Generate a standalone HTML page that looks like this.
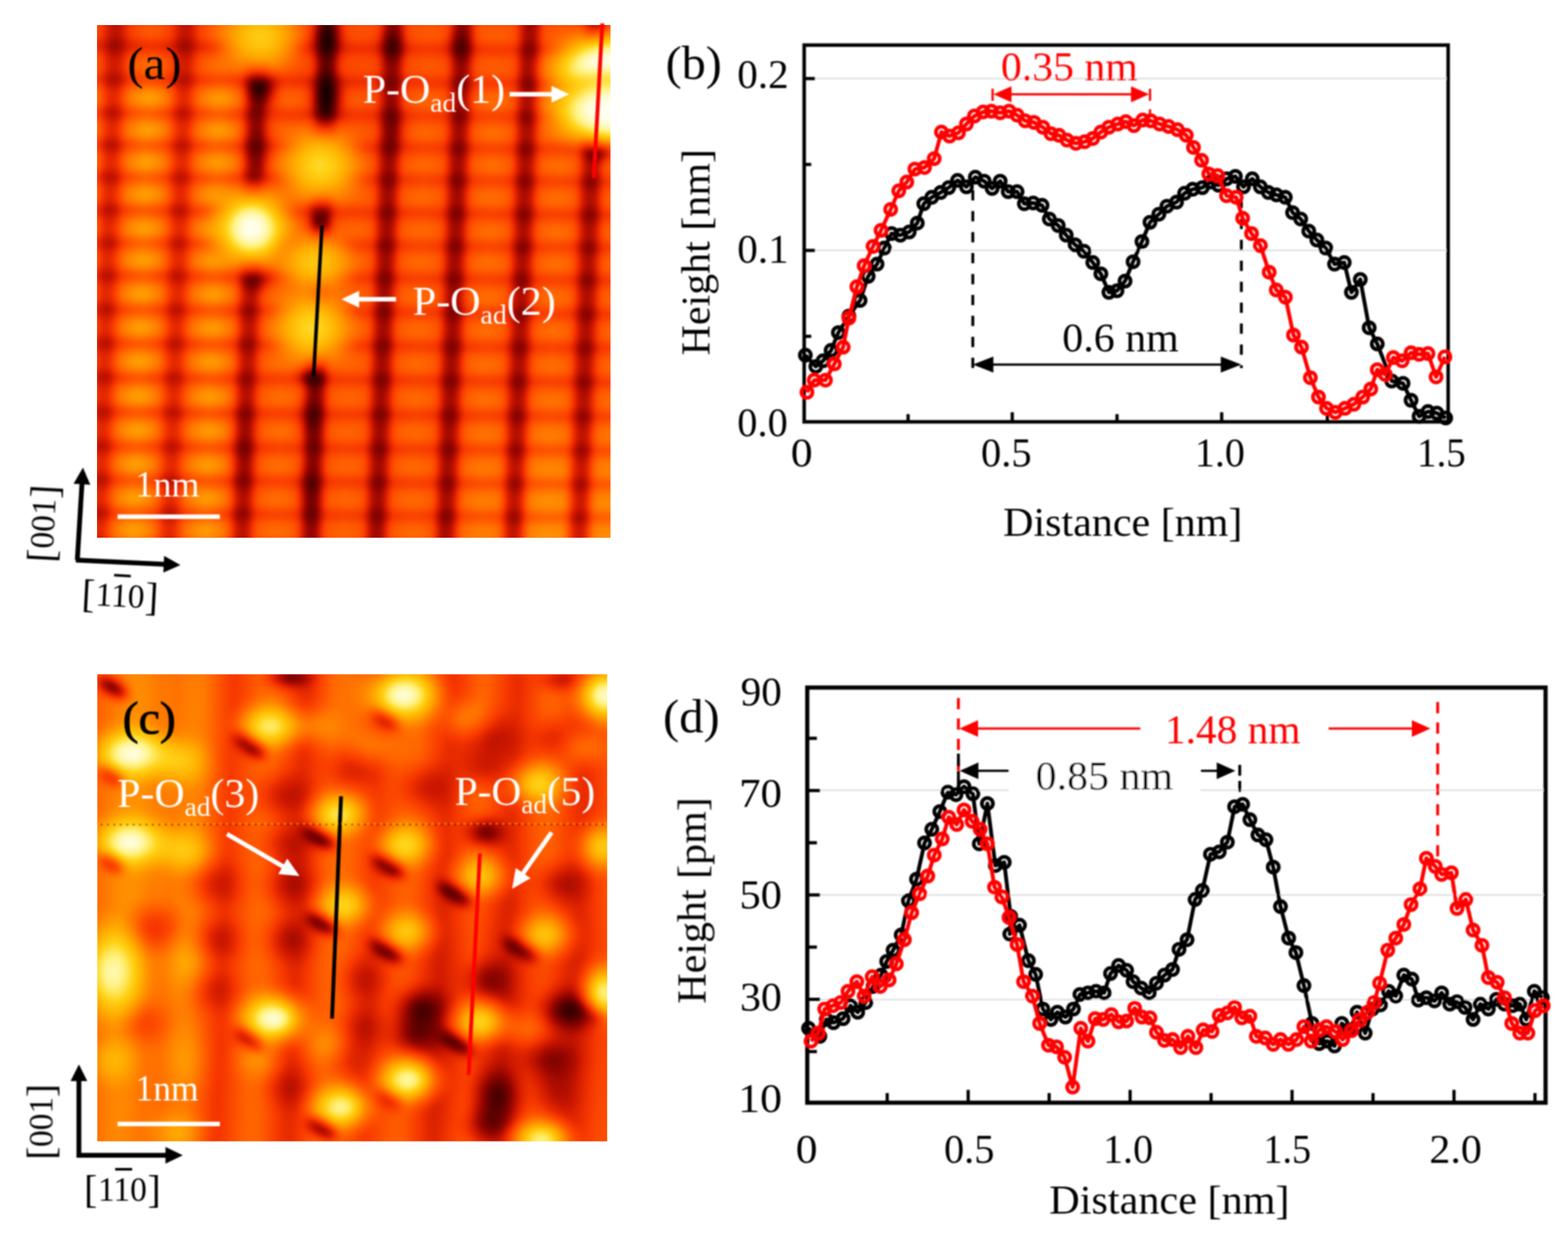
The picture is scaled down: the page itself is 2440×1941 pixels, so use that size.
<!DOCTYPE html>
<html lang="en"><head><meta charset="utf-8"><title>Figure</title>
<style>html,body{margin:0;padding:0;background:#fff;width:2440px;height:1941px;overflow:hidden}svg{display:block}text{font-family:"Liberation Serif","DejaVu Serif",serif;white-space:pre}</style></head><body>
<svg width="2440" height="1941" viewBox="0 0 2440 1941" role="img" aria-label="STM images and height profiles">
<defs>
<radialGradient id="gW"><stop offset="0" stop-color="#fff" stop-opacity="1"/><stop offset="0.15" stop-color="#fff" stop-opacity="0.94"/><stop offset="0.3" stop-color="#fff" stop-opacity="0.78"/><stop offset="0.45" stop-color="#fff" stop-opacity="0.57"/><stop offset="0.6" stop-color="#fff" stop-opacity="0.36"/><stop offset="0.75" stop-color="#fff" stop-opacity="0.18"/><stop offset="0.9" stop-color="#fff" stop-opacity="0.05"/><stop offset="1" stop-color="#fff" stop-opacity="0"/></radialGradient><radialGradient id="gB"><stop offset="0" stop-color="#000" stop-opacity="1"/><stop offset="0.15" stop-color="#000" stop-opacity="0.94"/><stop offset="0.3" stop-color="#000" stop-opacity="0.78"/><stop offset="0.45" stop-color="#000" stop-opacity="0.57"/><stop offset="0.6" stop-color="#000" stop-opacity="0.36"/><stop offset="0.75" stop-color="#000" stop-opacity="0.18"/><stop offset="0.9" stop-color="#000" stop-opacity="0.05"/><stop offset="1" stop-color="#000" stop-opacity="0"/></radialGradient><radialGradient id="gWF"><stop offset="0" stop-color="#fff" stop-opacity="1"/><stop offset="0.35" stop-color="#fff" stop-opacity="0.98"/><stop offset="0.5" stop-color="#fff" stop-opacity="0.9"/><stop offset="0.62" stop-color="#fff" stop-opacity="0.74"/><stop offset="0.74" stop-color="#fff" stop-opacity="0.5"/><stop offset="0.85" stop-color="#fff" stop-opacity="0.25"/><stop offset="0.94" stop-color="#fff" stop-opacity="0.07"/><stop offset="1" stop-color="#fff" stop-opacity="0"/></radialGradient><radialGradient id="gBF"><stop offset="0" stop-color="#000" stop-opacity="1"/><stop offset="0.35" stop-color="#000" stop-opacity="0.98"/><stop offset="0.5" stop-color="#000" stop-opacity="0.9"/><stop offset="0.62" stop-color="#000" stop-opacity="0.74"/><stop offset="0.74" stop-color="#000" stop-opacity="0.5"/><stop offset="0.85" stop-color="#000" stop-opacity="0.25"/><stop offset="0.94" stop-color="#000" stop-opacity="0.07"/><stop offset="1" stop-color="#000" stop-opacity="0"/></radialGradient><radialGradient id="gM"><stop offset="0" stop-color="#a0a0a0" stop-opacity="1"/><stop offset="0.35" stop-color="#a0a0a0" stop-opacity="0.98"/><stop offset="0.5" stop-color="#a0a0a0" stop-opacity="0.9"/><stop offset="0.62" stop-color="#a0a0a0" stop-opacity="0.74"/><stop offset="0.74" stop-color="#a0a0a0" stop-opacity="0.5"/><stop offset="0.85" stop-color="#a0a0a0" stop-opacity="0.25"/><stop offset="0.94" stop-color="#a0a0a0" stop-opacity="0.07"/><stop offset="1" stop-color="#a0a0a0" stop-opacity="0"/></radialGradient><filter id="fa" filterUnits="userSpaceOnUse" x="91.4" y="-20.6" width="917.9" height="916.8" color-interpolation-filters="sRGB"><feGaussianBlur in="SourceGraphic" stdDeviation="7" result="b"/><feComponentTransfer in="b"><feFuncR type="table" tableValues="0 0.3 0.58 0.82 0.97 1 1 1 1 1 1"/><feFuncG type="table" tableValues="0 0 0.02 0.1 0.22 0.36 0.52 0.68 0.82 0.95 1"/><feFuncB type="table" tableValues="0 0 0 0 0 0 0 0 0.08 0.5 0.95"/><feFuncA type="linear" slope="0" intercept="1"/></feComponentTransfer></filter><filter id="fc" filterUnits="userSpaceOnUse" x="91.4" y="989.6" width="913.4" height="846.9" color-interpolation-filters="sRGB"><feGaussianBlur in="SourceGraphic" stdDeviation="8" result="b"/><feComponentTransfer in="b"><feFuncR type="table" tableValues="0 0.3 0.58 0.82 0.97 1 1 1 1 1 1"/><feFuncG type="table" tableValues="0 0 0.02 0.1 0.22 0.36 0.52 0.68 0.82 0.95 1"/><feFuncB type="table" tableValues="0 0 0 0 0 0 0 0 0.08 0.5 0.95"/><feFuncA type="linear" slope="0" intercept="1"/></feComponentTransfer></filter><clipPath id="ca"><rect x="151.4" y="39.4" width="797.9" height="796.8"/></clipPath><clipPath id="cc"><rect x="151.4" y="1049.6" width="793.4" height="726.9"/></clipPath><filter id="soft" x="-5%" y="-5%" width="110%" height="110%"><feGaussianBlur stdDeviation="1.3"/></filter></defs>
<rect width="2440" height="1941" fill="#fff"/>
<g clip-path="url(#ca)"><g filter="url(#fa)"><rect x="80" y="-30" width="940" height="940" fill="#707070"/><ellipse cx="900" cy="820" rx="280" ry="260" fill="url(#gW)" opacity="0.22"/><ellipse cx="520" cy="140" rx="220" ry="220" fill="url(#gB)" opacity="0.10"/><ellipse cx="230" cy="40" rx="220" ry="110" fill="url(#gB)" opacity="0.25"/><line x1="182.3" y1="-30" x2="151.6" y2="900" stroke="#000" stroke-width="30" stroke-opacity="0.32"/><line x1="291.3" y1="-30" x2="260.6" y2="900" stroke="#000" stroke-width="30" stroke-opacity="0.30"/><line x1="404.3" y1="-30" x2="373.6" y2="900" stroke="#000" stroke-width="30" stroke-opacity="0.48"/><line x1="512.3" y1="-30" x2="481.6" y2="900" stroke="#000" stroke-width="30" stroke-opacity="0.62"/><line x1="614.3" y1="-30" x2="583.6" y2="900" stroke="#000" stroke-width="30" stroke-opacity="0.56"/><line x1="722.3" y1="-30" x2="691.6" y2="900" stroke="#000" stroke-width="30" stroke-opacity="0.56"/><line x1="827.3" y1="-30" x2="796.6" y2="900" stroke="#000" stroke-width="30" stroke-opacity="0.54"/><line x1="929.3" y1="-30" x2="898.6" y2="900" stroke="#000" stroke-width="30" stroke-opacity="0.52"/><line x1="80" y1="18.2" x2="1020" y2="27.6" stroke="#000" stroke-width="14" stroke-opacity="0.20"/><line x1="80" y1="70.2" x2="1020" y2="79.6" stroke="#000" stroke-width="14" stroke-opacity="0.20"/><line x1="80" y1="122.7" x2="1020" y2="132.1" stroke="#000" stroke-width="14" stroke-opacity="0.20"/><line x1="80" y1="174.2" x2="1020" y2="183.6" stroke="#000" stroke-width="14" stroke-opacity="0.20"/><line x1="80" y1="224.2" x2="1020" y2="233.6" stroke="#000" stroke-width="14" stroke-opacity="0.20"/><line x1="80" y1="274.2" x2="1020" y2="283.6" stroke="#000" stroke-width="14" stroke-opacity="0.20"/><line x1="80" y1="325.7" x2="1020" y2="335.1" stroke="#000" stroke-width="14" stroke-opacity="0.20"/><line x1="80" y1="376.7" x2="1020" y2="386.1" stroke="#000" stroke-width="14" stroke-opacity="0.20"/><line x1="80" y1="427.6" x2="1020" y2="436.9" stroke="#000" stroke-width="14" stroke-opacity="0.20"/><line x1="80" y1="480.2" x2="1020" y2="489.6" stroke="#000" stroke-width="14" stroke-opacity="0.20"/><line x1="80" y1="532.9" x2="1020" y2="542.2" stroke="#000" stroke-width="14" stroke-opacity="0.20"/><line x1="80" y1="586.2" x2="1020" y2="595.6" stroke="#000" stroke-width="14" stroke-opacity="0.20"/><line x1="80" y1="640" x2="1020" y2="649.4" stroke="#000" stroke-width="14" stroke-opacity="0.20"/><line x1="80" y1="693.1" x2="1020" y2="702.5" stroke="#000" stroke-width="14" stroke-opacity="0.20"/><line x1="80" y1="745.6" x2="1020" y2="755" stroke="#000" stroke-width="14" stroke-opacity="0.20"/><line x1="80" y1="797" x2="1020" y2="806.4" stroke="#000" stroke-width="14" stroke-opacity="0.20"/><line x1="80" y1="848.2" x2="1020" y2="857.6" stroke="#000" stroke-width="14" stroke-opacity="0.20"/><ellipse cx="128.4" cy="-5" rx="64" ry="36" fill="url(#gW)" opacity="0.20"/><ellipse cx="126.7" cy="47" rx="64" ry="36" fill="url(#gW)" opacity="0.20"/><ellipse cx="125" cy="99" rx="64" ry="36" fill="url(#gW)" opacity="0.20"/><ellipse cx="123.3" cy="151.9" rx="64" ry="36" fill="url(#gW)" opacity="0.34"/><ellipse cx="121.6" cy="201.9" rx="64" ry="36" fill="url(#gW)" opacity="0.34"/><ellipse cx="120" cy="251.9" rx="64" ry="36" fill="url(#gW)" opacity="0.34"/><ellipse cx="118.3" cy="301.9" rx="64" ry="36" fill="url(#gW)" opacity="0.34"/><ellipse cx="116.6" cy="354.9" rx="64" ry="36" fill="url(#gW)" opacity="0.34"/><ellipse cx="114.9" cy="403.8" rx="64" ry="36" fill="url(#gW)" opacity="0.34"/><ellipse cx="113.2" cy="456.5" rx="64" ry="36" fill="url(#gW)" opacity="0.34"/><ellipse cx="111.5" cy="509.1" rx="64" ry="36" fill="url(#gW)" opacity="0.34"/><ellipse cx="109.7" cy="561.8" rx="64" ry="36" fill="url(#gW)" opacity="0.34"/><ellipse cx="107.9" cy="615.8" rx="64" ry="36" fill="url(#gW)" opacity="0.34"/><ellipse cx="106.2" cy="669.3" rx="64" ry="36" fill="url(#gW)" opacity="0.34"/><ellipse cx="104.4" cy="721.9" rx="64" ry="36" fill="url(#gW)" opacity="0.34"/><ellipse cx="102.7" cy="774.2" rx="64" ry="36" fill="url(#gW)" opacity="0.34"/><ellipse cx="101" cy="824.7" rx="64" ry="36" fill="url(#gW)" opacity="0.34"/><ellipse cx="99.3" cy="876.7" rx="64" ry="36" fill="url(#gW)" opacity="0.34"/><ellipse cx="235.9" cy="-3.9" rx="64" ry="36" fill="url(#gW)" opacity="0.26"/><ellipse cx="234.2" cy="48" rx="64" ry="36" fill="url(#gW)" opacity="0.26"/><ellipse cx="232.5" cy="100" rx="64" ry="36" fill="url(#gW)" opacity="0.26"/><ellipse cx="230.8" cy="153" rx="64" ry="36" fill="url(#gW)" opacity="0.44"/><ellipse cx="229.1" cy="203" rx="64" ry="36" fill="url(#gW)" opacity="0.44"/><ellipse cx="227.5" cy="253" rx="64" ry="36" fill="url(#gW)" opacity="0.44"/><ellipse cx="225.8" cy="303" rx="64" ry="36" fill="url(#gW)" opacity="0.44"/><ellipse cx="224.1" cy="355.9" rx="64" ry="36" fill="url(#gW)" opacity="0.44"/><ellipse cx="222.4" cy="404.9" rx="64" ry="36" fill="url(#gW)" opacity="0.44"/><ellipse cx="220.7" cy="457.6" rx="64" ry="36" fill="url(#gW)" opacity="0.44"/><ellipse cx="219" cy="510.2" rx="64" ry="36" fill="url(#gW)" opacity="0.44"/><ellipse cx="217.2" cy="562.9" rx="64" ry="36" fill="url(#gW)" opacity="0.44"/><ellipse cx="215.4" cy="616.9" rx="64" ry="36" fill="url(#gW)" opacity="0.44"/><ellipse cx="213.7" cy="670.3" rx="64" ry="36" fill="url(#gW)" opacity="0.44"/><ellipse cx="211.9" cy="723" rx="64" ry="36" fill="url(#gW)" opacity="0.44"/><ellipse cx="210.2" cy="775.3" rx="64" ry="36" fill="url(#gW)" opacity="0.44"/><ellipse cx="208.5" cy="825.8" rx="64" ry="36" fill="url(#gW)" opacity="0.44"/><ellipse cx="206.8" cy="877.8" rx="64" ry="36" fill="url(#gW)" opacity="0.44"/><ellipse cx="346.9" cy="-2.8" rx="64" ry="36" fill="url(#gW)" opacity="0.25"/><ellipse cx="345.2" cy="49.2" rx="64" ry="36" fill="url(#gW)" opacity="0.25"/><ellipse cx="343.5" cy="101.1" rx="64" ry="36" fill="url(#gW)" opacity="0.25"/><ellipse cx="341.8" cy="154.1" rx="64" ry="36" fill="url(#gW)" opacity="0.42"/><ellipse cx="340.1" cy="204.1" rx="64" ry="36" fill="url(#gW)" opacity="0.42"/><ellipse cx="338.5" cy="254.1" rx="64" ry="36" fill="url(#gW)" opacity="0.42"/><ellipse cx="336.8" cy="304.1" rx="64" ry="36" fill="url(#gW)" opacity="0.42"/><ellipse cx="335.1" cy="357.1" rx="64" ry="36" fill="url(#gW)" opacity="0.42"/><ellipse cx="333.4" cy="406" rx="64" ry="36" fill="url(#gW)" opacity="0.42"/><ellipse cx="331.7" cy="458.7" rx="64" ry="36" fill="url(#gW)" opacity="0.42"/><ellipse cx="330" cy="511.3" rx="64" ry="36" fill="url(#gW)" opacity="0.42"/><ellipse cx="328.2" cy="564" rx="64" ry="36" fill="url(#gW)" opacity="0.42"/><ellipse cx="326.4" cy="618" rx="64" ry="36" fill="url(#gW)" opacity="0.42"/><ellipse cx="324.7" cy="671.4" rx="64" ry="36" fill="url(#gW)" opacity="0.42"/><ellipse cx="322.9" cy="724.1" rx="64" ry="36" fill="url(#gW)" opacity="0.42"/><ellipse cx="321.2" cy="776.4" rx="64" ry="36" fill="url(#gW)" opacity="0.42"/><ellipse cx="319.5" cy="826.9" rx="64" ry="36" fill="url(#gW)" opacity="0.42"/><ellipse cx="317.8" cy="878.9" rx="64" ry="36" fill="url(#gW)" opacity="0.42"/><ellipse cx="457.4" cy="-1.7" rx="64" ry="36" fill="url(#gW)" opacity="0.12"/><ellipse cx="455.7" cy="50.3" rx="64" ry="36" fill="url(#gW)" opacity="0.12"/><ellipse cx="454" cy="102.2" rx="64" ry="36" fill="url(#gW)" opacity="0.12"/><ellipse cx="452.3" cy="155.2" rx="64" ry="36" fill="url(#gW)" opacity="0.20"/><ellipse cx="450.6" cy="205.2" rx="64" ry="36" fill="url(#gW)" opacity="0.20"/><ellipse cx="449" cy="255.2" rx="64" ry="36" fill="url(#gW)" opacity="0.20"/><ellipse cx="447.3" cy="305.2" rx="64" ry="36" fill="url(#gW)" opacity="0.20"/><ellipse cx="445.6" cy="358.2" rx="64" ry="36" fill="url(#gW)" opacity="0.20"/><ellipse cx="443.9" cy="407.1" rx="64" ry="36" fill="url(#gW)" opacity="0.20"/><ellipse cx="442.2" cy="459.8" rx="64" ry="36" fill="url(#gW)" opacity="0.20"/><ellipse cx="440.5" cy="512.4" rx="64" ry="36" fill="url(#gW)" opacity="0.20"/><ellipse cx="438.7" cy="565.1" rx="64" ry="36" fill="url(#gW)" opacity="0.20"/><ellipse cx="436.9" cy="619.1" rx="64" ry="36" fill="url(#gW)" opacity="0.20"/><ellipse cx="435.2" cy="672.6" rx="64" ry="36" fill="url(#gW)" opacity="0.20"/><ellipse cx="433.4" cy="725.2" rx="64" ry="36" fill="url(#gW)" opacity="0.20"/><ellipse cx="431.7" cy="777.5" rx="64" ry="36" fill="url(#gW)" opacity="0.20"/><ellipse cx="430" cy="828" rx="64" ry="36" fill="url(#gW)" opacity="0.20"/><ellipse cx="428.3" cy="880" rx="64" ry="36" fill="url(#gW)" opacity="0.20"/><ellipse cx="562.4" cy="-0.7" rx="64" ry="36" fill="url(#gW)" opacity="0.10"/><ellipse cx="560.7" cy="51.3" rx="64" ry="36" fill="url(#gW)" opacity="0.10"/><ellipse cx="559" cy="103.3" rx="64" ry="36" fill="url(#gW)" opacity="0.10"/><ellipse cx="557.3" cy="156.3" rx="64" ry="36" fill="url(#gW)" opacity="0.16"/><ellipse cx="555.6" cy="206.3" rx="64" ry="36" fill="url(#gW)" opacity="0.16"/><ellipse cx="554" cy="256.2" rx="64" ry="36" fill="url(#gW)" opacity="0.16"/><ellipse cx="552.3" cy="306.2" rx="64" ry="36" fill="url(#gW)" opacity="0.16"/><ellipse cx="550.6" cy="359.2" rx="64" ry="36" fill="url(#gW)" opacity="0.16"/><ellipse cx="548.9" cy="408.2" rx="64" ry="36" fill="url(#gW)" opacity="0.16"/><ellipse cx="547.2" cy="460.9" rx="64" ry="36" fill="url(#gW)" opacity="0.16"/><ellipse cx="545.5" cy="513.5" rx="64" ry="36" fill="url(#gW)" opacity="0.16"/><ellipse cx="543.7" cy="566.1" rx="64" ry="36" fill="url(#gW)" opacity="0.16"/><ellipse cx="541.9" cy="620.1" rx="64" ry="36" fill="url(#gW)" opacity="0.16"/><ellipse cx="540.2" cy="673.6" rx="64" ry="36" fill="url(#gW)" opacity="0.16"/><ellipse cx="538.4" cy="726.3" rx="64" ry="36" fill="url(#gW)" opacity="0.16"/><ellipse cx="536.7" cy="778.6" rx="64" ry="36" fill="url(#gW)" opacity="0.16"/><ellipse cx="535" cy="829.1" rx="64" ry="36" fill="url(#gW)" opacity="0.16"/><ellipse cx="533.3" cy="881" rx="64" ry="36" fill="url(#gW)" opacity="0.16"/><ellipse cx="667.4" cy="0.4" rx="64" ry="36" fill="url(#gW)" opacity="0.11"/><ellipse cx="665.7" cy="52.4" rx="64" ry="36" fill="url(#gW)" opacity="0.11"/><ellipse cx="664" cy="104.3" rx="64" ry="36" fill="url(#gW)" opacity="0.11"/><ellipse cx="662.3" cy="157.3" rx="64" ry="36" fill="url(#gW)" opacity="0.18"/><ellipse cx="660.6" cy="207.3" rx="64" ry="36" fill="url(#gW)" opacity="0.18"/><ellipse cx="659" cy="257.3" rx="64" ry="36" fill="url(#gW)" opacity="0.18"/><ellipse cx="657.3" cy="307.3" rx="64" ry="36" fill="url(#gW)" opacity="0.18"/><ellipse cx="655.6" cy="360.3" rx="64" ry="36" fill="url(#gW)" opacity="0.18"/><ellipse cx="653.9" cy="409.2" rx="64" ry="36" fill="url(#gW)" opacity="0.18"/><ellipse cx="652.2" cy="461.9" rx="64" ry="36" fill="url(#gW)" opacity="0.18"/><ellipse cx="650.5" cy="514.5" rx="64" ry="36" fill="url(#gW)" opacity="0.18"/><ellipse cx="648.7" cy="567.2" rx="64" ry="36" fill="url(#gW)" opacity="0.18"/><ellipse cx="646.9" cy="621.2" rx="64" ry="36" fill="url(#gW)" opacity="0.18"/><ellipse cx="645.2" cy="674.7" rx="64" ry="36" fill="url(#gW)" opacity="0.18"/><ellipse cx="643.4" cy="727.3" rx="64" ry="36" fill="url(#gW)" opacity="0.18"/><ellipse cx="641.7" cy="779.6" rx="64" ry="36" fill="url(#gW)" opacity="0.18"/><ellipse cx="640" cy="830.1" rx="64" ry="36" fill="url(#gW)" opacity="0.18"/><ellipse cx="638.3" cy="882.1" rx="64" ry="36" fill="url(#gW)" opacity="0.18"/><ellipse cx="773.9" cy="1.4" rx="64" ry="36" fill="url(#gW)" opacity="0.12"/><ellipse cx="772.2" cy="53.4" rx="64" ry="36" fill="url(#gW)" opacity="0.12"/><ellipse cx="770.5" cy="105.4" rx="64" ry="36" fill="url(#gW)" opacity="0.12"/><ellipse cx="768.8" cy="158.4" rx="64" ry="36" fill="url(#gW)" opacity="0.20"/><ellipse cx="767.1" cy="208.4" rx="64" ry="36" fill="url(#gW)" opacity="0.20"/><ellipse cx="765.5" cy="258.4" rx="64" ry="36" fill="url(#gW)" opacity="0.20"/><ellipse cx="763.8" cy="308.3" rx="64" ry="36" fill="url(#gW)" opacity="0.20"/><ellipse cx="762.1" cy="361.3" rx="64" ry="36" fill="url(#gW)" opacity="0.20"/><ellipse cx="760.4" cy="410.3" rx="64" ry="36" fill="url(#gW)" opacity="0.20"/><ellipse cx="758.7" cy="463" rx="64" ry="36" fill="url(#gW)" opacity="0.20"/><ellipse cx="757" cy="515.6" rx="64" ry="36" fill="url(#gW)" opacity="0.20"/><ellipse cx="755.2" cy="568.3" rx="64" ry="36" fill="url(#gW)" opacity="0.20"/><ellipse cx="753.4" cy="622.2" rx="64" ry="36" fill="url(#gW)" opacity="0.20"/><ellipse cx="751.7" cy="675.7" rx="64" ry="36" fill="url(#gW)" opacity="0.20"/><ellipse cx="749.9" cy="728.4" rx="64" ry="36" fill="url(#gW)" opacity="0.20"/><ellipse cx="748.2" cy="780.7" rx="64" ry="36" fill="url(#gW)" opacity="0.20"/><ellipse cx="746.5" cy="831.2" rx="64" ry="36" fill="url(#gW)" opacity="0.20"/><ellipse cx="744.8" cy="883.1" rx="64" ry="36" fill="url(#gW)" opacity="0.20"/><ellipse cx="877.4" cy="2.5" rx="64" ry="36" fill="url(#gW)" opacity="0.12"/><ellipse cx="875.7" cy="54.5" rx="64" ry="36" fill="url(#gW)" opacity="0.12"/><ellipse cx="874" cy="106.4" rx="64" ry="36" fill="url(#gW)" opacity="0.12"/><ellipse cx="872.3" cy="159.4" rx="64" ry="36" fill="url(#gW)" opacity="0.20"/><ellipse cx="870.6" cy="209.4" rx="64" ry="36" fill="url(#gW)" opacity="0.20"/><ellipse cx="869" cy="259.4" rx="64" ry="36" fill="url(#gW)" opacity="0.20"/><ellipse cx="867.3" cy="309.4" rx="64" ry="36" fill="url(#gW)" opacity="0.20"/><ellipse cx="865.6" cy="362.4" rx="64" ry="36" fill="url(#gW)" opacity="0.20"/><ellipse cx="863.9" cy="411.3" rx="64" ry="36" fill="url(#gW)" opacity="0.20"/><ellipse cx="862.2" cy="464" rx="64" ry="36" fill="url(#gW)" opacity="0.20"/><ellipse cx="860.5" cy="516.6" rx="64" ry="36" fill="url(#gW)" opacity="0.20"/><ellipse cx="858.7" cy="569.3" rx="64" ry="36" fill="url(#gW)" opacity="0.20"/><ellipse cx="856.9" cy="623.3" rx="64" ry="36" fill="url(#gW)" opacity="0.20"/><ellipse cx="855.2" cy="676.8" rx="64" ry="36" fill="url(#gW)" opacity="0.20"/><ellipse cx="853.4" cy="729.4" rx="64" ry="36" fill="url(#gW)" opacity="0.20"/><ellipse cx="851.7" cy="781.7" rx="64" ry="36" fill="url(#gW)" opacity="0.20"/><ellipse cx="850" cy="832.2" rx="64" ry="36" fill="url(#gW)" opacity="0.20"/><ellipse cx="848.3" cy="884.2" rx="64" ry="36" fill="url(#gW)" opacity="0.20"/><ellipse cx="980.9" cy="3.5" rx="64" ry="36" fill="url(#gW)" opacity="0.11"/><ellipse cx="979.2" cy="55.5" rx="64" ry="36" fill="url(#gW)" opacity="0.11"/><ellipse cx="977.5" cy="107.5" rx="64" ry="36" fill="url(#gW)" opacity="0.11"/><ellipse cx="975.8" cy="160.5" rx="64" ry="36" fill="url(#gW)" opacity="0.18"/><ellipse cx="974.1" cy="210.4" rx="64" ry="36" fill="url(#gW)" opacity="0.18"/><ellipse cx="972.5" cy="260.4" rx="64" ry="36" fill="url(#gW)" opacity="0.18"/><ellipse cx="970.8" cy="310.4" rx="64" ry="36" fill="url(#gW)" opacity="0.18"/><ellipse cx="969.1" cy="363.4" rx="64" ry="36" fill="url(#gW)" opacity="0.18"/><ellipse cx="967.4" cy="412.4" rx="64" ry="36" fill="url(#gW)" opacity="0.18"/><ellipse cx="965.7" cy="465.1" rx="64" ry="36" fill="url(#gW)" opacity="0.18"/><ellipse cx="964" cy="517.6" rx="64" ry="36" fill="url(#gW)" opacity="0.18"/><ellipse cx="962.2" cy="570.3" rx="64" ry="36" fill="url(#gW)" opacity="0.18"/><ellipse cx="960.4" cy="624.3" rx="64" ry="36" fill="url(#gW)" opacity="0.18"/><ellipse cx="958.7" cy="677.8" rx="64" ry="36" fill="url(#gW)" opacity="0.18"/><ellipse cx="956.9" cy="730.5" rx="64" ry="36" fill="url(#gW)" opacity="0.18"/><ellipse cx="955.2" cy="782.8" rx="64" ry="36" fill="url(#gW)" opacity="0.18"/><ellipse cx="953.5" cy="833.2" rx="64" ry="36" fill="url(#gW)" opacity="0.18"/><ellipse cx="951.8" cy="885.2" rx="64" ry="36" fill="url(#gW)" opacity="0.18"/><ellipse cx="405.8" cy="135" rx="34" ry="52" fill="url(#gB)" opacity="0.90"/><ellipse cx="402" cy="230" rx="30" ry="80" fill="url(#gB)" opacity="0.45"/><ellipse cx="509" cy="60" rx="34" ry="54" fill="url(#gB)" opacity="0.85"/><ellipse cx="509" cy="150" rx="34" ry="64" fill="url(#gB)" opacity="0.95"/><ellipse cx="505" cy="215" rx="28" ry="44" fill="url(#gB)" opacity="0.50"/><ellipse cx="498.6" cy="323.4" rx="30" ry="20" fill="url(#gB)" opacity="0.80"/><ellipse cx="496" cy="350" rx="24" ry="20" fill="url(#gB)" opacity="0.60"/><ellipse cx="398.3" cy="432.6" rx="34" ry="34" fill="url(#gB)" opacity="0.60"/><ellipse cx="486" cy="585.5" rx="30" ry="24" fill="url(#gB)" opacity="0.95"/><ellipse cx="484" cy="650" rx="28" ry="60" fill="url(#gB)" opacity="0.45"/><ellipse cx="482" cy="760" rx="28" ry="60" fill="url(#gB)" opacity="0.35"/><ellipse cx="931" cy="233" rx="34" ry="24" fill="url(#gB)" opacity="0.90"/><ellipse cx="610" cy="70" rx="30" ry="40" fill="url(#gB)" opacity="0.60"/><ellipse cx="716" cy="70" rx="30" ry="40" fill="url(#gB)" opacity="0.50"/><ellipse cx="614" cy="200" rx="28" ry="60" fill="url(#gB)" opacity="0.30"/><ellipse cx="380" cy="700" rx="28" ry="120" fill="url(#gB)" opacity="0.25"/><ellipse cx="391.8" cy="355.5" rx="84" ry="82" fill="url(#gM)" opacity="1.00"/><ellipse cx="391.8" cy="355.5" rx="74" ry="72" fill="url(#gW)" opacity="1.00"/><ellipse cx="391.8" cy="355.5" rx="44" ry="44" fill="url(#gW)" opacity="1.00"/><ellipse cx="405" cy="57.7" rx="80" ry="74" fill="url(#gM)" opacity="1.00"/><ellipse cx="405" cy="57.7" rx="66" ry="62" fill="url(#gW)" opacity="0.45"/><ellipse cx="498.6" cy="258.2" rx="84" ry="80" fill="url(#gM)" opacity="1.00"/><ellipse cx="498.6" cy="258.2" rx="68" ry="66" fill="url(#gW)" opacity="0.55"/><ellipse cx="491" cy="409" rx="76" ry="62" fill="url(#gM)" opacity="0.95"/><ellipse cx="491" cy="409" rx="62" ry="54" fill="url(#gW)" opacity="0.45"/><ellipse cx="486" cy="510.3" rx="82" ry="78" fill="url(#gM)" opacity="1.00"/><ellipse cx="486" cy="510.3" rx="68" ry="66" fill="url(#gW)" opacity="0.55"/><ellipse cx="946" cy="108" rx="124" ry="74" fill="url(#gM)" opacity="1.00"/><ellipse cx="950" cy="108" rx="120" ry="72" fill="url(#gW)" opacity="1.00"/><ellipse cx="952" cy="108" rx="96" ry="58" fill="url(#gW)" opacity="1.00"/><ellipse cx="954" cy="108" rx="70" ry="44" fill="url(#gW)" opacity="1.00"/><ellipse cx="946" cy="172" rx="124" ry="72" fill="url(#gM)" opacity="1.00"/><ellipse cx="950" cy="172" rx="120" ry="70" fill="url(#gW)" opacity="1.00"/><ellipse cx="952" cy="172" rx="96" ry="56" fill="url(#gW)" opacity="1.00"/><ellipse cx="954" cy="172" rx="70" ry="42" fill="url(#gW)" opacity="1.00"/></g></g>
<g clip-path="url(#cc)"><g filter="url(#fc)"><rect x="80" y="980" width="940" height="870" fill="#7a7a7a"/><ellipse cx="240" cy="1300" rx="230" ry="420" fill="url(#gW)" opacity="0.08"/><ellipse cx="760" cy="1600" rx="340" ry="310" fill="url(#gB)" opacity="0.22"/><ellipse cx="560" cy="1100" rx="300" ry="160" fill="url(#gW)" opacity="0.05"/><line x1="364" y1="1040" x2="334" y2="1790" stroke="#000" stroke-width="74.8" stroke-opacity="0.070"/><line x1="364" y1="1040" x2="334" y2="1790" stroke="#000" stroke-width="47.6" stroke-opacity="0.062"/><line x1="364" y1="1040" x2="334" y2="1790" stroke="#000" stroke-width="23.8" stroke-opacity="0.062"/><line x1="476" y1="1040" x2="446" y2="1790" stroke="#000" stroke-width="74.8" stroke-opacity="0.106"/><line x1="476" y1="1040" x2="446" y2="1790" stroke="#000" stroke-width="47.6" stroke-opacity="0.092"/><line x1="476" y1="1040" x2="446" y2="1790" stroke="#000" stroke-width="23.8" stroke-opacity="0.092"/><line x1="594" y1="1040" x2="564" y2="1790" stroke="#000" stroke-width="66" stroke-opacity="0.053"/><line x1="594" y1="1040" x2="564" y2="1790" stroke="#000" stroke-width="42" stroke-opacity="0.046"/><line x1="594" y1="1040" x2="564" y2="1790" stroke="#000" stroke-width="21" stroke-opacity="0.046"/><line x1="702" y1="1040" x2="672" y2="1790" stroke="#000" stroke-width="74.8" stroke-opacity="0.097"/><line x1="702" y1="1040" x2="672" y2="1790" stroke="#000" stroke-width="47.6" stroke-opacity="0.085"/><line x1="702" y1="1040" x2="672" y2="1790" stroke="#000" stroke-width="23.8" stroke-opacity="0.085"/><line x1="804" y1="1040" x2="774" y2="1790" stroke="#000" stroke-width="74.8" stroke-opacity="0.106"/><line x1="804" y1="1040" x2="774" y2="1790" stroke="#000" stroke-width="47.6" stroke-opacity="0.092"/><line x1="804" y1="1040" x2="774" y2="1790" stroke="#000" stroke-width="23.8" stroke-opacity="0.092"/><line x1="914" y1="1040" x2="884" y2="1790" stroke="#000" stroke-width="74.8" stroke-opacity="0.097"/><line x1="914" y1="1040" x2="884" y2="1790" stroke="#000" stroke-width="47.6" stroke-opacity="0.085"/><line x1="914" y1="1040" x2="884" y2="1790" stroke="#000" stroke-width="23.8" stroke-opacity="0.085"/><line x1="214" y1="1040" x2="184" y2="1790" stroke="#fff" stroke-width="112" stroke-opacity="0.097"/><line x1="214" y1="1040" x2="184" y2="1790" stroke="#fff" stroke-width="72.8" stroke-opacity="0.085"/><line x1="214" y1="1040" x2="184" y2="1790" stroke="#fff" stroke-width="39.2" stroke-opacity="0.085"/><line x1="306" y1="1040" x2="276" y2="1790" stroke="#fff" stroke-width="100" stroke-opacity="0.070"/><line x1="306" y1="1040" x2="276" y2="1790" stroke="#fff" stroke-width="65" stroke-opacity="0.062"/><line x1="306" y1="1040" x2="276" y2="1790" stroke="#fff" stroke-width="35" stroke-opacity="0.062"/><line x1="424" y1="1040" x2="394" y2="1790" stroke="#fff" stroke-width="92" stroke-opacity="0.035"/><line x1="424" y1="1040" x2="394" y2="1790" stroke="#fff" stroke-width="59.8" stroke-opacity="0.031"/><line x1="424" y1="1040" x2="394" y2="1790" stroke="#fff" stroke-width="32.2" stroke-opacity="0.031"/><line x1="542" y1="1040" x2="512" y2="1790" stroke="#fff" stroke-width="92" stroke-opacity="0.044"/><line x1="542" y1="1040" x2="512" y2="1790" stroke="#fff" stroke-width="59.8" stroke-opacity="0.038"/><line x1="542" y1="1040" x2="512" y2="1790" stroke="#fff" stroke-width="32.2" stroke-opacity="0.038"/><line x1="650" y1="1040" x2="620" y2="1790" stroke="#fff" stroke-width="92" stroke-opacity="0.035"/><line x1="650" y1="1040" x2="620" y2="1790" stroke="#fff" stroke-width="59.8" stroke-opacity="0.031"/><line x1="650" y1="1040" x2="620" y2="1790" stroke="#fff" stroke-width="32.2" stroke-opacity="0.031"/><line x1="759" y1="1040" x2="729" y2="1790" stroke="#fff" stroke-width="92" stroke-opacity="0.026"/><line x1="759" y1="1040" x2="729" y2="1790" stroke="#fff" stroke-width="59.8" stroke-opacity="0.023"/><line x1="759" y1="1040" x2="729" y2="1790" stroke="#fff" stroke-width="32.2" stroke-opacity="0.023"/><line x1="864" y1="1040" x2="834" y2="1790" stroke="#fff" stroke-width="92" stroke-opacity="0.026"/><line x1="864" y1="1040" x2="834" y2="1790" stroke="#fff" stroke-width="59.8" stroke-opacity="0.023"/><line x1="864" y1="1040" x2="834" y2="1790" stroke="#fff" stroke-width="32.2" stroke-opacity="0.023"/><ellipse cx="175.2" cy="1070.2" rx="34" ry="15.5" fill="url(#gBF)" opacity="0.80" transform="rotate(30 175.2 1070.2)"/><ellipse cx="451" cy="1053.9" rx="54" ry="24" fill="url(#gB)" opacity="0.80"/><ellipse cx="388.3" cy="1160.4" rx="38" ry="15.5" fill="url(#gBF)" opacity="0.95" transform="rotate(35 388.3 1160.4)"/><ellipse cx="438.4" cy="1238.2" rx="64" ry="54" fill="url(#gB)" opacity="0.40"/><ellipse cx="546.2" cy="1198" rx="64" ry="54" fill="url(#gB)" opacity="0.40"/><ellipse cx="496.1" cy="1303.3" rx="38" ry="15.5" fill="url(#gBF)" opacity="0.95" transform="rotate(30 496.1 1303.3)"/><ellipse cx="446" cy="1313.4" rx="64" ry="48" fill="url(#gB)" opacity="0.35"/><ellipse cx="598.9" cy="1120.3" rx="30" ry="13.5" fill="url(#gBF)" opacity="0.80" transform="rotate(30 598.9 1120.3)"/><ellipse cx="603.9" cy="1348.5" rx="38" ry="15.5" fill="url(#gBF)" opacity="0.95" transform="rotate(30 603.9 1348.5)"/><ellipse cx="172.7" cy="1208" rx="28" ry="13.5" fill="url(#gBF)" opacity="0.70" transform="rotate(30 172.7 1208)"/><ellipse cx="172.7" cy="1343.4" rx="28" ry="13.5" fill="url(#gBF)" opacity="0.80" transform="rotate(30 172.7 1343.4)"/><ellipse cx="335.6" cy="1376" rx="64" ry="54" fill="url(#gB)" opacity="0.35"/><ellipse cx="451" cy="1376" rx="64" ry="54" fill="url(#gB)" opacity="0.40"/><ellipse cx="760.5" cy="1150.4" rx="68" ry="58" fill="url(#gB)" opacity="0.45"/><ellipse cx="750.5" cy="1195.5" rx="54" ry="44" fill="url(#gB)" opacity="0.40"/><ellipse cx="660.3" cy="1225.6" rx="64" ry="54" fill="url(#gB)" opacity="0.40"/><ellipse cx="755.5" cy="1295.8" rx="48" ry="34" fill="url(#gB)" opacity="0.80"/><ellipse cx="860.8" cy="1150.4" rx="54" ry="48" fill="url(#gB)" opacity="0.35"/><ellipse cx="707.9" cy="1391.1" rx="40" ry="15.5" fill="url(#gBF)" opacity="0.95" transform="rotate(30 707.9 1391.1)"/><ellipse cx="873.4" cy="1376" rx="60" ry="48" fill="url(#gB)" opacity="0.45"/><ellipse cx="873.4" cy="1057.7" rx="54" ry="26" fill="url(#gB)" opacity="0.50"/><ellipse cx="240.4" cy="1445" rx="64" ry="54" fill="url(#gB)" opacity="0.35"/><ellipse cx="338.2" cy="1462.7" rx="60" ry="50" fill="url(#gB)" opacity="0.35"/><ellipse cx="451" cy="1462.7" rx="60" ry="50" fill="url(#gB)" opacity="0.40"/><ellipse cx="501" cy="1437.6" rx="36" ry="15.5" fill="url(#gBF)" opacity="0.95" transform="rotate(30 501 1437.6)"/><ellipse cx="601.4" cy="1480.2" rx="38" ry="15.5" fill="url(#gBF)" opacity="0.95" transform="rotate(30 601.4 1480.2)"/><ellipse cx="330.6" cy="1540.4" rx="60" ry="50" fill="url(#gB)" opacity="0.30"/><ellipse cx="225.3" cy="1593" rx="54" ry="48" fill="url(#gB)" opacity="0.25"/><ellipse cx="388.3" cy="1618" rx="34" ry="13.5" fill="url(#gBF)" opacity="0.90" transform="rotate(35 388.3 1618)"/><ellipse cx="563.8" cy="1525" rx="54" ry="54" fill="url(#gB)" opacity="0.35"/><ellipse cx="563.8" cy="1600" rx="54" ry="54" fill="url(#gB)" opacity="0.35"/><ellipse cx="451" cy="1693.3" rx="54" ry="48" fill="url(#gB)" opacity="0.30"/><ellipse cx="501" cy="1756" rx="34" ry="15.5" fill="url(#gBF)" opacity="0.90" transform="rotate(30 501 1756)"/><ellipse cx="543.7" cy="1650.7" rx="44" ry="44" fill="url(#gB)" opacity="0.25"/><ellipse cx="810.7" cy="1477.7" rx="40" ry="15.5" fill="url(#gBF)" opacity="0.95" transform="rotate(30 810.7 1477.7)"/><ellipse cx="760.5" cy="1525.3" rx="54" ry="48" fill="url(#gB)" opacity="0.55"/><ellipse cx="655.3" cy="1570.5" rx="60" ry="48" fill="url(#gB)" opacity="0.80"/><ellipse cx="647.7" cy="1610" rx="60" ry="48" fill="url(#gB)" opacity="0.70"/><ellipse cx="710.4" cy="1623.1" rx="38" ry="15.5" fill="url(#gBF)" opacity="0.95" transform="rotate(30 710.4 1623.1)"/><ellipse cx="885.9" cy="1573" rx="64" ry="48" fill="url(#gB)" opacity="0.85"/><ellipse cx="916" cy="1575.5" rx="34" ry="15.5" fill="url(#gBF)" opacity="0.95" transform="rotate(30 916 1575.5)"/><ellipse cx="855.8" cy="1650.7" rx="64" ry="54" fill="url(#gB)" opacity="0.60"/><ellipse cx="773.1" cy="1705.8" rx="54" ry="64" fill="url(#gB)" opacity="0.75"/><ellipse cx="760.5" cy="1750" rx="54" ry="44" fill="url(#gB)" opacity="0.60"/><ellipse cx="860.8" cy="1700.8" rx="54" ry="48" fill="url(#gB)" opacity="0.35"/><ellipse cx="605.1" cy="1710.9" rx="30" ry="15.5" fill="url(#gBF)" opacity="0.60" transform="rotate(30 605.1 1710.9)"/><ellipse cx="205.3" cy="1173" rx="86" ry="56" fill="url(#gW)" opacity="1.00"/><ellipse cx="205.3" cy="1173" rx="40" ry="24" fill="url(#gW)" opacity="0.60"/><ellipse cx="280.5" cy="1185.5" rx="64" ry="54" fill="url(#gW)" opacity="0.50"/><ellipse cx="202.8" cy="1310.9" rx="82" ry="56" fill="url(#gW)" opacity="1.00"/><ellipse cx="202.8" cy="1310.9" rx="36" ry="24" fill="url(#gW)" opacity="0.50"/><ellipse cx="285.5" cy="1323.4" rx="64" ry="52" fill="url(#gW)" opacity="0.50"/><ellipse cx="420.9" cy="1130.4" rx="74" ry="50" fill="url(#gW)" opacity="0.80"/><ellipse cx="491" cy="1130" rx="54" ry="44" fill="url(#gW)" opacity="0.30"/><ellipse cx="627.7" cy="1082" rx="84" ry="60" fill="url(#gW)" opacity="1.00"/><ellipse cx="627.7" cy="1082" rx="36" ry="24" fill="url(#gW)" opacity="0.40"/><ellipse cx="940" cy="1082.7" rx="64" ry="64" fill="url(#gW)" opacity="1.00"/><ellipse cx="723" cy="1120" rx="54" ry="44" fill="url(#gW)" opacity="0.30"/><ellipse cx="526.2" cy="1268" rx="66" ry="48" fill="url(#gW)" opacity="0.76"/><ellipse cx="630" cy="1315" rx="66" ry="50" fill="url(#gW)" opacity="0.68"/><ellipse cx="835.8" cy="1220.6" rx="64" ry="48" fill="url(#gW)" opacity="0.68"/><ellipse cx="911" cy="1163" rx="54" ry="44" fill="url(#gW)" opacity="0.30"/><ellipse cx="585" cy="1163" rx="54" ry="44" fill="url(#gW)" opacity="0.25"/><ellipse cx="536.2" cy="1409" rx="64" ry="48" fill="url(#gW)" opacity="0.66"/><ellipse cx="748" cy="1363.5" rx="64" ry="48" fill="url(#gW)" opacity="0.60"/><ellipse cx="936" cy="1318.4" rx="54" ry="54" fill="url(#gW)" opacity="0.66"/><ellipse cx="175.2" cy="1512.8" rx="70" ry="104" fill="url(#gW)" opacity="0.90"/><ellipse cx="425.9" cy="1585.5" rx="76" ry="56" fill="url(#gW)" opacity="1.00"/><ellipse cx="425.9" cy="1585.5" rx="34" ry="24" fill="url(#gW)" opacity="0.60"/><ellipse cx="531.2" cy="1723.4" rx="68" ry="50" fill="url(#gW)" opacity="0.90"/><ellipse cx="633" cy="1450" rx="64" ry="48" fill="url(#gW)" opacity="0.60"/><ellipse cx="848.3" cy="1455.2" rx="64" ry="48" fill="url(#gW)" opacity="0.60"/><ellipse cx="748" cy="1590.5" rx="64" ry="50" fill="url(#gW)" opacity="0.76"/><ellipse cx="635.2" cy="1680.8" rx="70" ry="52" fill="url(#gW)" opacity="0.95"/><ellipse cx="940" cy="1545.4" rx="50" ry="64" fill="url(#gW)" opacity="0.90"/><ellipse cx="843.3" cy="1774" rx="68" ry="44" fill="url(#gW)" opacity="0.90"/><ellipse cx="501" cy="1625" rx="54" ry="44" fill="url(#gW)" opacity="0.25"/><ellipse cx="400.8" cy="1650" rx="54" ry="44" fill="url(#gW)" opacity="0.25"/><ellipse cx="175.2" cy="1650.7" rx="54" ry="54" fill="url(#gW)" opacity="0.35"/><ellipse cx="275.5" cy="1763.5" rx="64" ry="44" fill="url(#gW)" opacity="0.30"/><ellipse cx="810.7" cy="1600.6" rx="54" ry="44" fill="url(#gW)" opacity="0.25"/><ellipse cx="290" cy="1500" rx="50" ry="80" fill="url(#gW)" opacity="0.25"/><ellipse cx="290" cy="1650" rx="50" ry="80" fill="url(#gW)" opacity="0.20"/></g></g>
<g filter="url(#soft)">
<line x1="937.3" y1="36.3" x2="924" y2="277" stroke="#f00" stroke-width="6"/><line x1="501.1" y1="351" x2="488" y2="585.5" stroke="#000" stroke-width="5.5"/><text transform="translate(198.3 122.8) scale(1.0528 1)" font-size="72" fill="#000" >(a)</text><text transform="translate(564.5 160.4) scale(1.0186 1)" font-size="64" fill="#fff">P-O<tspan font-size="42" dy="13.8">ad</tspan><tspan dy="-13.8">(1)</tspan></text><line x1="793" y1="146.7" x2="863.8" y2="146.7" stroke="#fff" stroke-width="7"/><polygon points="885.9,146.7 858.3,159.7 858.3,133.7" fill="#fff"/><text transform="translate(642.2 490.2) scale(1.0242 1)" font-size="64" fill="#fff">P-O<tspan font-size="42" dy="13.8">ad</tspan><tspan dy="-13.8">(2)</tspan></text><line x1="616.4" y1="465.7" x2="553.3" y2="465.7" stroke="#fff" stroke-width="7"/><polygon points="531.2,465.7 558.8,452.7 558.8,478.7" fill="#fff"/><text transform="translate(210.7 772.5) scale(0.9846 1)" font-size="57" fill="#fff" >1nm</text><line x1="183" y1="804.3" x2="342.2" y2="804.3" stroke="#fff" stroke-width="7"/><line x1="120.3" y1="872" x2="127.8" y2="748.6" stroke="#000" stroke-width="7.5"/><polygon points="129.1,727.8 140.5,754.5 114.5,753" fill="#000"/><line x1="118" y1="871.8" x2="260" y2="878.5" stroke="#000" stroke-width="7.5"/><polygon points="280.8,879.5 254.2,891.3 255.4,865.3" fill="#000"/><g transform="translate(186 944.3) rotate(3)"><text x="-59.8" y="3" font-size="62">[</text><text x="39.0" y="3" font-size="62">]</text><text x="0" y="0" text-anchor="middle" font-size="52">110</text><line x1="-11" y1="-48.5" x2="15" y2="-48.5" stroke="#000" stroke-width="4"/></g><g transform="translate(84.5 815.7) rotate(-87)"><text x="-60.4" y="3" font-size="62">[</text><text x="39.6" y="3" font-size="62">]</text><text x="0" y="0" text-anchor="middle" font-size="52">001</text></g><line x1="151" y1="1282" x2="945" y2="1282" stroke="#ffb020" stroke-width="2.5" stroke-dasharray="4 6" opacity="0.55"/><line x1="156" y1="1283.5" x2="945" y2="1283.5" stroke="#5a0a00" stroke-width="2.5" stroke-dasharray="4 6" opacity="0.45"/><line x1="530.7" y1="1239.4" x2="516.7" y2="1585.5" stroke="#000" stroke-width="6"/><line x1="746.8" y1="1328.4" x2="729.2" y2="1673.3" stroke="#f00" stroke-width="6"/><text transform="translate(190.8 1141.6) scale(1.0366 1)" font-size="72" fill="#000" stroke="#000" stroke-width="1.2">(c)</text><text transform="translate(182.2 1255.7) scale(1.0186 1)" font-size="64" fill="#fff">P-O<tspan font-size="42" dy="13.8">ad</tspan><tspan dy="-13.8">(3)</tspan></text><line x1="353.2" y1="1298.3" x2="445.2" y2="1351.5" stroke="#fff" stroke-width="7"/><polygon points="466,1363.5 433,1360.6 447,1336.4" fill="#fff"/><text transform="translate(707.4 1253.2) scale(1.0068 1)" font-size="64" fill="#fff">P-O<tspan font-size="42" dy="12.5">ad</tspan><tspan dy="-12.5">(5)</tspan></text><line x1="858.3" y1="1295.8" x2="810.7" y2="1363.9" stroke="#fff" stroke-width="7"/><polygon points="796.9,1383.6 802.6,1351 825.6,1367" fill="#fff"/><text transform="translate(210.8 1713.1) scale(0.9709 1)" font-size="57" fill="#fff" >1nm</text><line x1="183" y1="1749.4" x2="342.2" y2="1749.4" stroke="#fff" stroke-width="7"/><line x1="122.8" y1="1802" x2="122.8" y2="1677.5" stroke="#000" stroke-width="7.5"/><polygon points="122.8,1656.7 135.8,1682.7 109.8,1682.7" fill="#000"/><line x1="119" y1="1798.3" x2="262.9" y2="1798.3" stroke="#000" stroke-width="7.5"/><polygon points="284.5,1798.3 257.5,1811.3 257.5,1785.3" fill="#000"/><g transform="translate(190.5 1868.5)"><text x="-59.8" y="3" font-size="62">[</text><text x="39.0" y="3" font-size="62">]</text><text x="0" y="0" text-anchor="middle" font-size="52">110</text><line x1="-11.3" y1="-48.5" x2="15.1" y2="-48.5" stroke="#000" stroke-width="4"/></g><g transform="translate(81.4 1746.3) rotate(-90)"><text x="-59.1" y="3" font-size="62">[</text><text x="38.4" y="3" font-size="62">]</text><text x="0" y="0" text-anchor="middle" font-size="52">001</text></g><line x1="1251.4" y1="122.3" x2="2253.5" y2="122.3" stroke="#e0e0e0" stroke-width="2.5"/><line x1="1251.4" y1="389.8" x2="2253.5" y2="389.8" stroke="#e0e0e0" stroke-width="2.5"/><line x1="1251.4" y1="122.3" x2="1268.4" y2="122.3" stroke="#000" stroke-width="5"/><line x1="1251.4" y1="256" x2="1262.4" y2="256" stroke="#000" stroke-width="5"/><line x1="1251.4" y1="389.8" x2="1268.4" y2="389.8" stroke="#000" stroke-width="5"/><line x1="1251.4" y1="523.5" x2="1262.4" y2="523.5" stroke="#000" stroke-width="5"/><line x1="1413.1" y1="656.6" x2="1413.1" y2="644.6" stroke="#000" stroke-width="5"/><line x1="1575.2" y1="656.6" x2="1575.2" y2="641.6" stroke="#000" stroke-width="5"/><line x1="1738.2" y1="656.6" x2="1738.2" y2="644.6" stroke="#000" stroke-width="5"/><line x1="1901.1" y1="656.6" x2="1901.1" y2="641.6" stroke="#000" stroke-width="5"/><line x1="2065.5" y1="656.6" x2="2065.5" y2="644.6" stroke="#000" stroke-width="5"/><rect x="1251.4" y="70.2" width="1002.1" height="586.4" fill="none" stroke="#000" stroke-width="5.5"/><line x1="1513.8" y1="288" x2="1513.8" y2="573" stroke="#000" stroke-width="4.5" stroke-dasharray="16 16.6" stroke-dashoffset="-8"/><line x1="1931.7" y1="310" x2="1931.7" y2="573" stroke="#000" stroke-width="4.5" stroke-dasharray="16 16.6" stroke-dashoffset="2"/><line x1="1530" y1="567.4" x2="1915" y2="567.4" stroke="#000" stroke-width="3.5"/><polygon points="1513.8,567.4 1545.8,554.9 1545.8,579.9" fill="#000"/><polygon points="1931.7,567.4 1899.7,579.9 1899.7,554.9" fill="#000"/><text transform="translate(1653 546.6) scale(1.0206 1)" font-size="64" fill="#000" >0.6 nm</text><path d="M1253.2 552.8 L1269.5 570.4 L1280.8 561.6 L1293.3 545.3 L1304.6 517.7 L1321 492 L1338.4 467.6 L1351 430 L1364.8 411.1 L1376 386 L1387.3 363.5 L1401.1 366 L1414.9 361 L1427.4 347.2 L1437.5 317.1 L1450 307.1 L1463.8 299.6 L1476.3 292 L1490.1 280.8 L1503.9 290.8 L1517.7 275.8 L1531.5 282 L1543.9 293.3 L1556.4 282 L1568.9 298.3 L1582.7 298.3 L1594 317.1 L1607.8 315.9 L1621.6 319.6 L1632.9 340.9 L1646.7 351 L1659.2 366 L1673 381 L1686.8 391.1 L1700.5 408.6 L1713.1 426.2 L1725.6 455 L1738.2 452.6 L1750.7 437.5 L1763.2 407.4 L1777 376 L1789.5 346 L1803.3 333.4 L1815.9 320.9 L1830.9 314.6 L1843.4 300.8 L1856 294.6 L1871 292 L1883.6 283.3 L1896.1 288.3 L1908.6 278.3 L1922.4 274.5 L1935 290.8 L1948.7 278.3 L1961.3 290.8 L1973.8 299.6 L1986.3 303.3 L2000.1 307.1 L2011.4 330.9 L2024.1 340.9 L2036.6 359.7 L2049.2 373.5 L2063 386 L2076.7 411.1 L2091.8 408.6 L2103 455 L2116.8 435 L2130.6 510.2 L2143.2 535.3 L2165.7 593 L2183.3 596.7 L2195.8 623 L2208.3 648 L2222.1 640.6 L2235.9 643 L2249.7 650.6" fill="none" stroke="#000" stroke-width="6" stroke-linejoin="round"/><g fill="none" stroke="#000" stroke-width="5.8"><circle cx="1253.2" cy="552.8" r="8.6"/><circle cx="1269.5" cy="570.4" r="8.6"/><circle cx="1280.8" cy="561.6" r="8.6"/><circle cx="1293.3" cy="545.3" r="8.6"/><circle cx="1304.6" cy="517.7" r="8.6"/><circle cx="1321" cy="492" r="8.6"/><circle cx="1338.4" cy="467.6" r="8.6"/><circle cx="1351" cy="430" r="8.6"/><circle cx="1364.8" cy="411.1" r="8.6"/><circle cx="1376" cy="386" r="8.6"/><circle cx="1387.3" cy="363.5" r="8.6"/><circle cx="1401.1" cy="366" r="8.6"/><circle cx="1414.9" cy="361" r="8.6"/><circle cx="1427.4" cy="347.2" r="8.6"/><circle cx="1437.5" cy="317.1" r="8.6"/><circle cx="1450" cy="307.1" r="8.6"/><circle cx="1463.8" cy="299.6" r="8.6"/><circle cx="1476.3" cy="292" r="8.6"/><circle cx="1490.1" cy="280.8" r="8.6"/><circle cx="1503.9" cy="290.8" r="8.6"/><circle cx="1517.7" cy="275.8" r="8.6"/><circle cx="1531.5" cy="282" r="8.6"/><circle cx="1543.9" cy="293.3" r="8.6"/><circle cx="1556.4" cy="282" r="8.6"/><circle cx="1568.9" cy="298.3" r="8.6"/><circle cx="1582.7" cy="298.3" r="8.6"/><circle cx="1594" cy="317.1" r="8.6"/><circle cx="1607.8" cy="315.9" r="8.6"/><circle cx="1621.6" cy="319.6" r="8.6"/><circle cx="1632.9" cy="340.9" r="8.6"/><circle cx="1646.7" cy="351" r="8.6"/><circle cx="1659.2" cy="366" r="8.6"/><circle cx="1673" cy="381" r="8.6"/><circle cx="1686.8" cy="391.1" r="8.6"/><circle cx="1700.5" cy="408.6" r="8.6"/><circle cx="1713.1" cy="426.2" r="8.6"/><circle cx="1725.6" cy="455" r="8.6"/><circle cx="1738.2" cy="452.6" r="8.6"/><circle cx="1750.7" cy="437.5" r="8.6"/><circle cx="1763.2" cy="407.4" r="8.6"/><circle cx="1777" cy="376" r="8.6"/><circle cx="1789.5" cy="346" r="8.6"/><circle cx="1803.3" cy="333.4" r="8.6"/><circle cx="1815.9" cy="320.9" r="8.6"/><circle cx="1830.9" cy="314.6" r="8.6"/><circle cx="1843.4" cy="300.8" r="8.6"/><circle cx="1856" cy="294.6" r="8.6"/><circle cx="1871" cy="292" r="8.6"/><circle cx="1883.6" cy="283.3" r="8.6"/><circle cx="1896.1" cy="288.3" r="8.6"/><circle cx="1908.6" cy="278.3" r="8.6"/><circle cx="1922.4" cy="274.5" r="8.6"/><circle cx="1935" cy="290.8" r="8.6"/><circle cx="1948.7" cy="278.3" r="8.6"/><circle cx="1961.3" cy="290.8" r="8.6"/><circle cx="1973.8" cy="299.6" r="8.6"/><circle cx="1986.3" cy="303.3" r="8.6"/><circle cx="2000.1" cy="307.1" r="8.6"/><circle cx="2011.4" cy="330.9" r="8.6"/><circle cx="2024.1" cy="340.9" r="8.6"/><circle cx="2036.6" cy="359.7" r="8.6"/><circle cx="2049.2" cy="373.5" r="8.6"/><circle cx="2063" cy="386" r="8.6"/><circle cx="2076.7" cy="411.1" r="8.6"/><circle cx="2091.8" cy="408.6" r="8.6"/><circle cx="2103" cy="455" r="8.6"/><circle cx="2116.8" cy="435" r="8.6"/><circle cx="2130.6" cy="510.2" r="8.6"/><circle cx="2143.2" cy="535.3" r="8.6"/><circle cx="2165.7" cy="593" r="8.6"/><circle cx="2183.3" cy="596.7" r="8.6"/><circle cx="2195.8" cy="623" r="8.6"/><circle cx="2208.3" cy="648" r="8.6"/><circle cx="2222.1" cy="640.6" r="8.6"/><circle cx="2235.9" cy="643" r="8.6"/><circle cx="2249.7" cy="650.6" r="8.6"/></g><path d="M1255.7 610.5 L1267 591.7 L1284.5 591.7 L1298.3 566.6 L1312.1 540.3 L1320.9 495.2 L1333.4 446.3 L1344.7 413.6 L1358.5 383.6 L1371 358.5 L1386 325.9 L1398.6 297.1 L1411.1 283.3 L1423.7 263.2 L1438.7 260.7 L1453.7 246.9 L1465 205.6 L1477.6 211.8 L1491.4 206.8 L1503.9 193 L1516.4 180.5 L1530 174.2 L1542.6 173 L1556.4 175.5 L1570.2 173 L1582.7 179.2 L1595.3 188 L1609 190.5 L1622.8 198 L1635.4 208.1 L1647.9 210.6 L1660.4 218.1 L1674.2 223.1 L1688 220.6 L1700.5 215.6 L1713 205.6 L1725.6 198 L1739.4 193 L1751.9 189.3 L1764.5 195.5 L1778.3 186.8 L1790.8 188 L1804.6 193 L1818.4 196.8 L1832.2 201.8 L1846 210.6 L1857.2 229.4 L1869.8 249.4 L1881 270.7 L1894.8 273.3 L1908.6 304.6 L1923.7 307.1 L1933.7 339.7 L1947.5 363.5 L1961.3 382.3 L1975 423.7 L1986 451.3 L2000.3 462.6 L2012.8 521.5 L2025.3 540.3 L2039.1 587.9 L2051.7 618 L2064.2 635.6 L2078 641.8 L2093 635.6 L2106.8 629.3 L2120.6 618 L2133.1 605.5 L2143.2 575.4 L2155.7 582.9 L2168.2 556.6 L2182 561.6 L2195.8 549.1 L2208.3 551.6 L2222.1 550.3 L2234.7 586.7 L2248.5 555.4" fill="none" stroke="#f00" stroke-width="6" stroke-linejoin="round"/><g fill="none" stroke="#f00" stroke-width="5.8"><circle cx="1255.7" cy="610.5" r="8.6"/><circle cx="1267" cy="591.7" r="8.6"/><circle cx="1284.5" cy="591.7" r="8.6"/><circle cx="1298.3" cy="566.6" r="8.6"/><circle cx="1312.1" cy="540.3" r="8.6"/><circle cx="1320.9" cy="495.2" r="8.6"/><circle cx="1333.4" cy="446.3" r="8.6"/><circle cx="1344.7" cy="413.6" r="8.6"/><circle cx="1358.5" cy="383.6" r="8.6"/><circle cx="1371" cy="358.5" r="8.6"/><circle cx="1386" cy="325.9" r="8.6"/><circle cx="1398.6" cy="297.1" r="8.6"/><circle cx="1411.1" cy="283.3" r="8.6"/><circle cx="1423.7" cy="263.2" r="8.6"/><circle cx="1438.7" cy="260.7" r="8.6"/><circle cx="1453.7" cy="246.9" r="8.6"/><circle cx="1465" cy="205.6" r="8.6"/><circle cx="1477.6" cy="211.8" r="8.6"/><circle cx="1491.4" cy="206.8" r="8.6"/><circle cx="1503.9" cy="193" r="8.6"/><circle cx="1516.4" cy="180.5" r="8.6"/><circle cx="1530" cy="174.2" r="8.6"/><circle cx="1542.6" cy="173" r="8.6"/><circle cx="1556.4" cy="175.5" r="8.6"/><circle cx="1570.2" cy="173" r="8.6"/><circle cx="1582.7" cy="179.2" r="8.6"/><circle cx="1595.3" cy="188" r="8.6"/><circle cx="1609" cy="190.5" r="8.6"/><circle cx="1622.8" cy="198" r="8.6"/><circle cx="1635.4" cy="208.1" r="8.6"/><circle cx="1647.9" cy="210.6" r="8.6"/><circle cx="1660.4" cy="218.1" r="8.6"/><circle cx="1674.2" cy="223.1" r="8.6"/><circle cx="1688" cy="220.6" r="8.6"/><circle cx="1700.5" cy="215.6" r="8.6"/><circle cx="1713" cy="205.6" r="8.6"/><circle cx="1725.6" cy="198" r="8.6"/><circle cx="1739.4" cy="193" r="8.6"/><circle cx="1751.9" cy="189.3" r="8.6"/><circle cx="1764.5" cy="195.5" r="8.6"/><circle cx="1778.3" cy="186.8" r="8.6"/><circle cx="1790.8" cy="188" r="8.6"/><circle cx="1804.6" cy="193" r="8.6"/><circle cx="1818.4" cy="196.8" r="8.6"/><circle cx="1832.2" cy="201.8" r="8.6"/><circle cx="1846" cy="210.6" r="8.6"/><circle cx="1857.2" cy="229.4" r="8.6"/><circle cx="1869.8" cy="249.4" r="8.6"/><circle cx="1881" cy="270.7" r="8.6"/><circle cx="1894.8" cy="273.3" r="8.6"/><circle cx="1908.6" cy="304.6" r="8.6"/><circle cx="1923.7" cy="307.1" r="8.6"/><circle cx="1933.7" cy="339.7" r="8.6"/><circle cx="1947.5" cy="363.5" r="8.6"/><circle cx="1961.3" cy="382.3" r="8.6"/><circle cx="1975" cy="423.7" r="8.6"/><circle cx="1986" cy="451.3" r="8.6"/><circle cx="2000.3" cy="462.6" r="8.6"/><circle cx="2012.8" cy="521.5" r="8.6"/><circle cx="2025.3" cy="540.3" r="8.6"/><circle cx="2039.1" cy="587.9" r="8.6"/><circle cx="2051.7" cy="618" r="8.6"/><circle cx="2064.2" cy="635.6" r="8.6"/><circle cx="2078" cy="641.8" r="8.6"/><circle cx="2093" cy="635.6" r="8.6"/><circle cx="2106.8" cy="629.3" r="8.6"/><circle cx="2120.6" cy="618" r="8.6"/><circle cx="2133.1" cy="605.5" r="8.6"/><circle cx="2143.2" cy="575.4" r="8.6"/><circle cx="2155.7" cy="582.9" r="8.6"/><circle cx="2168.2" cy="556.6" r="8.6"/><circle cx="2182" cy="561.6" r="8.6"/><circle cx="2195.8" cy="549.1" r="8.6"/><circle cx="2208.3" cy="551.6" r="8.6"/><circle cx="2222.1" cy="550.3" r="8.6"/><circle cx="2234.7" cy="586.7" r="8.6"/><circle cx="2248.5" cy="555.4" r="8.6"/></g><line x1="1560" y1="146.7" x2="1770" y2="146.7" stroke="#f00" stroke-width="3.5"/><polygon points="1546,146.7 1574,134.2 1574,159.2" fill="#f00"/><polygon points="1788,146.7 1760,159.2 1760,134.2" fill="#f00"/><line x1="1544.6" y1="138" x2="1544.6" y2="157" stroke="#f00" stroke-width="3.5"/><line x1="1789.5" y1="138" x2="1789.5" y2="157" stroke="#f00" stroke-width="3.5"/><line x1="1789.5" y1="170" x2="1789.5" y2="183" stroke="#f00" stroke-width="3.5"/><text transform="translate(1557.6 125.3) scale(1.0150 1)" font-size="64" fill="#f00" >0.35 nm</text><text x="1035.8" y="122.8" font-size="75" fill="#000" >(b)</text><text x="1147.3" y="136.6" font-size="64" fill="#000" >0.2</text><text x="1147.3" y="408.6" font-size="64" fill="#000" >0.1</text><text transform="translate(1147.3 679) scale(0.9814 1)" font-size="64" fill="#000" >0.0</text><text transform="translate(1230.4 725.8) scale(1.0662 1)" font-size="64" fill="#000" >0</text><text transform="translate(1526.4 725.8) scale(0.9861 1)" font-size="64" fill="#000" >0.5</text><text transform="translate(1859.3 725.8) scale(0.9750 1)" font-size="64" fill="#000" >1.0</text><text transform="translate(2205.1 725.8) scale(0.9479 1)" font-size="64" fill="#000" >1.5</text><text transform="translate(1560.9 834) scale(1.0226 1)" font-size="64" fill="#000" >Distance [nm]</text><text transform="translate(1104.3 553.3) rotate(-90) scale(1.0219 1)" font-size="64" fill="#000">Height [nm]</text><line x1="1256.2" y1="1230.1" x2="2405.1" y2="1230.1" stroke="#e0e0e0" stroke-width="2.5"/><line x1="1256.2" y1="1393.1" x2="2405.1" y2="1393.1" stroke="#e0e0e0" stroke-width="2.5"/><line x1="1256.2" y1="1555.9" x2="2405.1" y2="1555.9" stroke="#e0e0e0" stroke-width="2.5"/><rect x="1570" y="1165" width="298" height="72" fill="#fff"/><line x1="1256.2" y1="1636.8" x2="1271.2" y2="1636.8" stroke="#000" stroke-width="5"/><line x1="1256.2" y1="1555.5" x2="1276.2" y2="1555.5" stroke="#000" stroke-width="5"/><line x1="1256.2" y1="1474.2" x2="1271.2" y2="1474.2" stroke="#000" stroke-width="5"/><line x1="1256.2" y1="1393" x2="1276.2" y2="1393" stroke="#000" stroke-width="5"/><line x1="1256.2" y1="1311.8" x2="1271.2" y2="1311.8" stroke="#000" stroke-width="5"/><line x1="1256.2" y1="1230.5" x2="1276.2" y2="1230.5" stroke="#000" stroke-width="5"/><line x1="1256.2" y1="1149.2" x2="1271.2" y2="1149.2" stroke="#000" stroke-width="5"/><line x1="1380.6" y1="1716.4" x2="1380.6" y2="1701.4" stroke="#000" stroke-width="5"/><line x1="1506.6" y1="1716.4" x2="1506.6" y2="1696.4" stroke="#000" stroke-width="5"/><line x1="1632.6" y1="1716.4" x2="1632.6" y2="1701.4" stroke="#000" stroke-width="5"/><line x1="1758.6" y1="1716.4" x2="1758.6" y2="1696.4" stroke="#000" stroke-width="5"/><line x1="1884.6" y1="1716.4" x2="1884.6" y2="1701.4" stroke="#000" stroke-width="5"/><line x1="2010.6" y1="1716.4" x2="2010.6" y2="1696.4" stroke="#000" stroke-width="5"/><line x1="2136.6" y1="1716.4" x2="2136.6" y2="1701.4" stroke="#000" stroke-width="5"/><line x1="2262.6" y1="1716.4" x2="2262.6" y2="1696.4" stroke="#000" stroke-width="5"/><line x1="2388.6" y1="1716.4" x2="2388.6" y2="1701.4" stroke="#000" stroke-width="5"/><rect x="1256.2" y="1070.2" width="1148.9" height="646.2" fill="none" stroke="#000" stroke-width="6.5"/><line x1="1491.4" y1="1086.5" x2="1491.4" y2="1230" stroke="#f00" stroke-width="4.5" stroke-dasharray="17.5 14.3"/><line x1="1491.4" y1="1173" x2="1491.4" y2="1222" stroke="#000" stroke-width="4.5" stroke-dasharray="20 7"/><line x1="2237.2" y1="1092.8" x2="2237.2" y2="1333.4" stroke="#f00" stroke-width="4.5" stroke-dasharray="17.5 14.3"/><line x1="1929.2" y1="1190.5" x2="1929.2" y2="1233" stroke="#000" stroke-width="4.5" stroke-dasharray="17 8"/><path d="M1258.2 1600.6 L1275.8 1613 L1285.8 1586.8 L1297 1591.8 L1312 1585.5 L1323.4 1565.5 L1334.7 1575.5 L1347.2 1560.4 L1358.5 1535.4 L1371 1517.8 L1379.8 1496.5 L1389.8 1479 L1402.4 1455.2 L1413.6 1402 L1426.2 1368.5 L1438.7 1312.1 L1450 1290.8 L1462.5 1263.2 L1475 1233.1 L1487.6 1236.9 L1500.1 1224.4 L1513.9 1235.6 L1523.9 1313.4 L1536.5 1250.7 L1548.9 1347.2 L1562.7 1342.2 L1572.7 1426.2 L1571.4 1453.9 L1586.5 1440.1 L1600.3 1495.3 L1611.6 1516.6 L1622.8 1570.5 L1635.4 1586.8 L1645.4 1575.5 L1657.9 1583 L1670.5 1570.5 L1680.5 1547.9 L1693 1545.4 L1705.6 1542.9 L1718.1 1545.4 L1728.1 1515.3 L1740.7 1502.8 L1753.2 1510.3 L1763.2 1527.9 L1775.8 1537.9 L1788.3 1545.4 L1799.6 1530.4 L1812.1 1517.8 L1824.6 1509 L1834.7 1477.7 L1847.2 1462.7 L1859.7 1400 L1871 1386.1 L1883.6 1329.7 L1897.3 1325.9 L1909.9 1310.9 L1921.2 1255.7 L1933.7 1251.9 L1945 1275.8 L1957.5 1299.6 L1970 1307.1 L1981.3 1349.7 L1992.6 1411.1 L2005.3 1460.2 L2016.6 1482.7 L2029.1 1534.1 L2041.6 1593 L2052.9 1624.4 L2065.5 1620.6 L2076.7 1628.1 L2088 1593 L2100.6 1603.1 L2111.8 1575.5 L2124.4 1608.1 L2135.6 1570.5 L2148.2 1564.2 L2160.7 1542.9 L2172 1550.4 L2184.5 1517.8 L2197.1 1524.1 L2207.1 1556.7 L2219.6 1552.9 L2232.2 1557.9 L2243.4 1545.4 L2256 1562.9 L2267.3 1559.2 L2279.8 1568 L2292.3 1586.8 L2303.6 1562.9 L2316.1 1570.5 L2328.7 1555.4 L2341.2 1562.9 L2353.7 1565.5 L2365 1562.9 L2375.1 1586.8 L2387.6 1542.9 L2400.1 1552.9" fill="none" stroke="#000" stroke-width="6" stroke-linejoin="round"/><g fill="none" stroke="#000" stroke-width="5.8"><circle cx="1258.2" cy="1600.6" r="8.6"/><circle cx="1275.8" cy="1613" r="8.6"/><circle cx="1285.8" cy="1586.8" r="8.6"/><circle cx="1297" cy="1591.8" r="8.6"/><circle cx="1312" cy="1585.5" r="8.6"/><circle cx="1323.4" cy="1565.5" r="8.6"/><circle cx="1334.7" cy="1575.5" r="8.6"/><circle cx="1347.2" cy="1560.4" r="8.6"/><circle cx="1358.5" cy="1535.4" r="8.6"/><circle cx="1371" cy="1517.8" r="8.6"/><circle cx="1379.8" cy="1496.5" r="8.6"/><circle cx="1389.8" cy="1479" r="8.6"/><circle cx="1402.4" cy="1455.2" r="8.6"/><circle cx="1413.6" cy="1402" r="8.6"/><circle cx="1426.2" cy="1368.5" r="8.6"/><circle cx="1438.7" cy="1312.1" r="8.6"/><circle cx="1450" cy="1290.8" r="8.6"/><circle cx="1462.5" cy="1263.2" r="8.6"/><circle cx="1475" cy="1233.1" r="8.6"/><circle cx="1487.6" cy="1236.9" r="8.6"/><circle cx="1500.1" cy="1224.4" r="8.6"/><circle cx="1513.9" cy="1235.6" r="8.6"/><circle cx="1523.9" cy="1313.4" r="8.6"/><circle cx="1536.5" cy="1250.7" r="8.6"/><circle cx="1548.9" cy="1347.2" r="8.6"/><circle cx="1562.7" cy="1342.2" r="8.6"/><circle cx="1572.7" cy="1426.2" r="8.6"/><circle cx="1571.4" cy="1453.9" r="8.6"/><circle cx="1586.5" cy="1440.1" r="8.6"/><circle cx="1600.3" cy="1495.3" r="8.6"/><circle cx="1611.6" cy="1516.6" r="8.6"/><circle cx="1622.8" cy="1570.5" r="8.6"/><circle cx="1635.4" cy="1586.8" r="8.6"/><circle cx="1645.4" cy="1575.5" r="8.6"/><circle cx="1657.9" cy="1583" r="8.6"/><circle cx="1670.5" cy="1570.5" r="8.6"/><circle cx="1680.5" cy="1547.9" r="8.6"/><circle cx="1693" cy="1545.4" r="8.6"/><circle cx="1705.6" cy="1542.9" r="8.6"/><circle cx="1718.1" cy="1545.4" r="8.6"/><circle cx="1728.1" cy="1515.3" r="8.6"/><circle cx="1740.7" cy="1502.8" r="8.6"/><circle cx="1753.2" cy="1510.3" r="8.6"/><circle cx="1763.2" cy="1527.9" r="8.6"/><circle cx="1775.8" cy="1537.9" r="8.6"/><circle cx="1788.3" cy="1545.4" r="8.6"/><circle cx="1799.6" cy="1530.4" r="8.6"/><circle cx="1812.1" cy="1517.8" r="8.6"/><circle cx="1824.6" cy="1509" r="8.6"/><circle cx="1834.7" cy="1477.7" r="8.6"/><circle cx="1847.2" cy="1462.7" r="8.6"/><circle cx="1859.7" cy="1400" r="8.6"/><circle cx="1871" cy="1386.1" r="8.6"/><circle cx="1883.6" cy="1329.7" r="8.6"/><circle cx="1897.3" cy="1325.9" r="8.6"/><circle cx="1909.9" cy="1310.9" r="8.6"/><circle cx="1921.2" cy="1255.7" r="8.6"/><circle cx="1933.7" cy="1251.9" r="8.6"/><circle cx="1945" cy="1275.8" r="8.6"/><circle cx="1957.5" cy="1299.6" r="8.6"/><circle cx="1970" cy="1307.1" r="8.6"/><circle cx="1981.3" cy="1349.7" r="8.6"/><circle cx="1992.6" cy="1411.1" r="8.6"/><circle cx="2005.3" cy="1460.2" r="8.6"/><circle cx="2016.6" cy="1482.7" r="8.6"/><circle cx="2029.1" cy="1534.1" r="8.6"/><circle cx="2041.6" cy="1593" r="8.6"/><circle cx="2052.9" cy="1624.4" r="8.6"/><circle cx="2065.5" cy="1620.6" r="8.6"/><circle cx="2076.7" cy="1628.1" r="8.6"/><circle cx="2088" cy="1593" r="8.6"/><circle cx="2100.6" cy="1603.1" r="8.6"/><circle cx="2111.8" cy="1575.5" r="8.6"/><circle cx="2124.4" cy="1608.1" r="8.6"/><circle cx="2135.6" cy="1570.5" r="8.6"/><circle cx="2148.2" cy="1564.2" r="8.6"/><circle cx="2160.7" cy="1542.9" r="8.6"/><circle cx="2172" cy="1550.4" r="8.6"/><circle cx="2184.5" cy="1517.8" r="8.6"/><circle cx="2197.1" cy="1524.1" r="8.6"/><circle cx="2207.1" cy="1556.7" r="8.6"/><circle cx="2219.6" cy="1552.9" r="8.6"/><circle cx="2232.2" cy="1557.9" r="8.6"/><circle cx="2243.4" cy="1545.4" r="8.6"/><circle cx="2256" cy="1562.9" r="8.6"/><circle cx="2267.3" cy="1559.2" r="8.6"/><circle cx="2279.8" cy="1568" r="8.6"/><circle cx="2292.3" cy="1586.8" r="8.6"/><circle cx="2303.6" cy="1562.9" r="8.6"/><circle cx="2316.1" cy="1570.5" r="8.6"/><circle cx="2328.7" cy="1555.4" r="8.6"/><circle cx="2341.2" cy="1562.9" r="8.6"/><circle cx="2353.7" cy="1565.5" r="8.6"/><circle cx="2365" cy="1562.9" r="8.6"/><circle cx="2375.1" cy="1586.8" r="8.6"/><circle cx="2387.6" cy="1542.9" r="8.6"/><circle cx="2400.1" cy="1552.9" r="8.6"/></g><path d="M1262 1620.6 L1273.3 1608.1 L1283.3 1570.5 L1295.8 1565.5 L1308.3 1560.4 L1319.6 1542.9 L1333.4 1527.9 L1344.7 1550.4 L1357.2 1520.3 L1369.8 1535.4 L1383.6 1525.3 L1394.8 1500.3 L1407.4 1462.7 L1418.7 1420.6 L1431.2 1391.1 L1443.7 1363.5 L1453.8 1330.9 L1466.3 1305.8 L1476.3 1272 L1488.8 1283.3 L1500.1 1260.7 L1512.7 1278.3 L1525.2 1290.8 L1536.5 1313.4 L1547.6 1381 L1558.9 1396.1 L1570.2 1428 L1582.7 1470.2 L1592.8 1527.9 L1606.5 1550.4 L1617.8 1593 L1631.6 1626.9 L1644.1 1629.4 L1656.7 1645.7 L1669.2 1692.1 L1681.8 1600.6 L1693 1620.6 L1704.3 1585.5 L1716.8 1586.8 L1729.4 1579.2 L1740.7 1590.5 L1753.2 1589.3 L1765.7 1569.2 L1777 1583 L1789.5 1584.3 L1799.6 1606.8 L1812.1 1619.4 L1824.6 1618.1 L1837.2 1630.6 L1848.5 1613.1 L1861 1630.6 L1872.3 1603.1 L1886.1 1605.6 L1897.3 1580.5 L1909.9 1576.7 L1921.2 1568 L1932.4 1584.3 L1945 1581.8 L1955 1613.1 L1968.8 1615.6 L1981.3 1625.6 L1992.6 1618.1 L2005.1 1625.6 L2017.7 1618.1 L2029.1 1598 L2040.4 1620.6 L2052.9 1603.1 L2064.2 1598 L2078 1605.6 L2089.3 1618.1 L2103.1 1604.3 L2115.6 1588 L2128.1 1575.5 L2138.2 1560.4 L2146.9 1530.4 L2159.5 1479 L2172 1460.2 L2184.5 1438.9 L2195.8 1408 L2209.6 1383.6 L2219.6 1335.9 L2233.4 1348.5 L2243.4 1361 L2258.5 1358.5 L2267.3 1414 L2281 1400 L2292.3 1447.6 L2306.1 1471.4 L2316.1 1521.6 L2329.9 1529.1 L2341.2 1552.9 L2352.5 1593 L2365 1608.1 L2377.6 1608.1 L2388.8 1573 L2401.4 1565.5" fill="none" stroke="#f00" stroke-width="6" stroke-linejoin="round"/><g fill="none" stroke="#f00" stroke-width="5.8"><circle cx="1262" cy="1620.6" r="8.6"/><circle cx="1273.3" cy="1608.1" r="8.6"/><circle cx="1283.3" cy="1570.5" r="8.6"/><circle cx="1295.8" cy="1565.5" r="8.6"/><circle cx="1308.3" cy="1560.4" r="8.6"/><circle cx="1319.6" cy="1542.9" r="8.6"/><circle cx="1333.4" cy="1527.9" r="8.6"/><circle cx="1344.7" cy="1550.4" r="8.6"/><circle cx="1357.2" cy="1520.3" r="8.6"/><circle cx="1369.8" cy="1535.4" r="8.6"/><circle cx="1383.6" cy="1525.3" r="8.6"/><circle cx="1394.8" cy="1500.3" r="8.6"/><circle cx="1407.4" cy="1462.7" r="8.6"/><circle cx="1418.7" cy="1420.6" r="8.6"/><circle cx="1431.2" cy="1391.1" r="8.6"/><circle cx="1443.7" cy="1363.5" r="8.6"/><circle cx="1453.8" cy="1330.9" r="8.6"/><circle cx="1466.3" cy="1305.8" r="8.6"/><circle cx="1476.3" cy="1272" r="8.6"/><circle cx="1488.8" cy="1283.3" r="8.6"/><circle cx="1500.1" cy="1260.7" r="8.6"/><circle cx="1512.7" cy="1278.3" r="8.6"/><circle cx="1525.2" cy="1290.8" r="8.6"/><circle cx="1536.5" cy="1313.4" r="8.6"/><circle cx="1547.6" cy="1381" r="8.6"/><circle cx="1558.9" cy="1396.1" r="8.6"/><circle cx="1570.2" cy="1428" r="8.6"/><circle cx="1582.7" cy="1470.2" r="8.6"/><circle cx="1592.8" cy="1527.9" r="8.6"/><circle cx="1606.5" cy="1550.4" r="8.6"/><circle cx="1617.8" cy="1593" r="8.6"/><circle cx="1631.6" cy="1626.9" r="8.6"/><circle cx="1644.1" cy="1629.4" r="8.6"/><circle cx="1656.7" cy="1645.7" r="8.6"/><circle cx="1669.2" cy="1692.1" r="8.6"/><circle cx="1681.8" cy="1600.6" r="8.6"/><circle cx="1693" cy="1620.6" r="8.6"/><circle cx="1704.3" cy="1585.5" r="8.6"/><circle cx="1716.8" cy="1586.8" r="8.6"/><circle cx="1729.4" cy="1579.2" r="8.6"/><circle cx="1740.7" cy="1590.5" r="8.6"/><circle cx="1753.2" cy="1589.3" r="8.6"/><circle cx="1765.7" cy="1569.2" r="8.6"/><circle cx="1777" cy="1583" r="8.6"/><circle cx="1789.5" cy="1584.3" r="8.6"/><circle cx="1799.6" cy="1606.8" r="8.6"/><circle cx="1812.1" cy="1619.4" r="8.6"/><circle cx="1824.6" cy="1618.1" r="8.6"/><circle cx="1837.2" cy="1630.6" r="8.6"/><circle cx="1848.5" cy="1613.1" r="8.6"/><circle cx="1861" cy="1630.6" r="8.6"/><circle cx="1872.3" cy="1603.1" r="8.6"/><circle cx="1886.1" cy="1605.6" r="8.6"/><circle cx="1897.3" cy="1580.5" r="8.6"/><circle cx="1909.9" cy="1576.7" r="8.6"/><circle cx="1921.2" cy="1568" r="8.6"/><circle cx="1932.4" cy="1584.3" r="8.6"/><circle cx="1945" cy="1581.8" r="8.6"/><circle cx="1955" cy="1613.1" r="8.6"/><circle cx="1968.8" cy="1615.6" r="8.6"/><circle cx="1981.3" cy="1625.6" r="8.6"/><circle cx="1992.6" cy="1618.1" r="8.6"/><circle cx="2005.1" cy="1625.6" r="8.6"/><circle cx="2017.7" cy="1618.1" r="8.6"/><circle cx="2029.1" cy="1598" r="8.6"/><circle cx="2040.4" cy="1620.6" r="8.6"/><circle cx="2052.9" cy="1603.1" r="8.6"/><circle cx="2064.2" cy="1598" r="8.6"/><circle cx="2078" cy="1605.6" r="8.6"/><circle cx="2089.3" cy="1618.1" r="8.6"/><circle cx="2103.1" cy="1604.3" r="8.6"/><circle cx="2115.6" cy="1588" r="8.6"/><circle cx="2128.1" cy="1575.5" r="8.6"/><circle cx="2138.2" cy="1560.4" r="8.6"/><circle cx="2146.9" cy="1530.4" r="8.6"/><circle cx="2159.5" cy="1479" r="8.6"/><circle cx="2172" cy="1460.2" r="8.6"/><circle cx="2184.5" cy="1438.9" r="8.6"/><circle cx="2195.8" cy="1408" r="8.6"/><circle cx="2209.6" cy="1383.6" r="8.6"/><circle cx="2219.6" cy="1335.9" r="8.6"/><circle cx="2233.4" cy="1348.5" r="8.6"/><circle cx="2243.4" cy="1361" r="8.6"/><circle cx="2258.5" cy="1358.5" r="8.6"/><circle cx="2267.3" cy="1414" r="8.6"/><circle cx="2281" cy="1400" r="8.6"/><circle cx="2292.3" cy="1447.6" r="8.6"/><circle cx="2306.1" cy="1471.4" r="8.6"/><circle cx="2316.1" cy="1521.6" r="8.6"/><circle cx="2329.9" cy="1529.1" r="8.6"/><circle cx="2341.2" cy="1552.9" r="8.6"/><circle cx="2352.5" cy="1593" r="8.6"/><circle cx="2365" cy="1608.1" r="8.6"/><circle cx="2377.6" cy="1608.1" r="8.6"/><circle cx="2388.8" cy="1573" r="8.6"/><circle cx="2401.4" cy="1565.5" r="8.6"/></g><line x1="1515" y1="1134.1" x2="1774.5" y2="1134.1" stroke="#f00" stroke-width="3.5"/><polygon points="1493,1134.1 1522,1121.1 1522,1147.1" fill="#f00"/><line x1="2067.5" y1="1134.1" x2="2205" y2="1134.1" stroke="#f00" stroke-width="3.5"/><polygon points="2226,1134.1 2197,1147.1 2197,1121.1" fill="#f00"/><text transform="translate(1812.8 1156.7) scale(1.0059 1)" font-size="64" fill="#f00" >1.48 nm</text><line x1="1515" y1="1199.8" x2="1570.2" y2="1199.8" stroke="#000" stroke-width="3.5"/><polygon points="1493.5,1199.8 1522.5,1186.8 1522.5,1212.8" fill="#000"/><line x1="1868" y1="1199.8" x2="1900" y2="1199.8" stroke="#000" stroke-width="3.5"/><polygon points="1922.4,1199.8 1893.4,1212.8 1893.4,1186.8" fill="#000"/><text transform="translate(1611.6 1228.6) scale(1.0203 1)" font-size="64" fill="#000" >0.85 nm</text><text transform="translate(1031.8 1140.4) scale(1.0074 1)" font-size="75" fill="#000" >(d)</text><text transform="translate(1152.4 1097.8) scale(1.0047 1)" font-size="64" fill="#000" >90</text><text transform="translate(1150.2 1255.7) scale(1.0411 1)" font-size="64" fill="#000" >70</text><text transform="translate(1150.7 1413.6) scale(1.0325 1)" font-size="64" fill="#000" >50</text><text transform="translate(1151.4 1573) scale(1.0212 1)" font-size="64" fill="#000" >30</text><text transform="translate(1148.5 1730.9) scale(1.0679 1)" font-size="64" fill="#000" >10</text><text transform="translate(1238.2 1809.9) scale(1.0588 1)" font-size="64" fill="#000" >0</text><text transform="translate(1468.9 1809.9) scale(0.9835 1)" font-size="64" fill="#000" >0.5</text><text transform="translate(1716.4 1809.9) scale(0.9736 1)" font-size="64" fill="#000" >1.0</text><text transform="translate(1966.1 1809.9) scale(0.9271 1)" font-size="64" fill="#000" >1.5</text><text transform="translate(2224.3 1809.9) scale(1.0216 1)" font-size="64" fill="#000" >2.0</text><text transform="translate(1632.8 1888.5) scale(1.0265 1)" font-size="64" fill="#000" >Distance [nm]</text><text transform="translate(1097.8 1562.3) rotate(-90) scale(1.0219 1)" font-size="64" fill="#000">Height [pm]</text></g>
</svg>
</body></html>
